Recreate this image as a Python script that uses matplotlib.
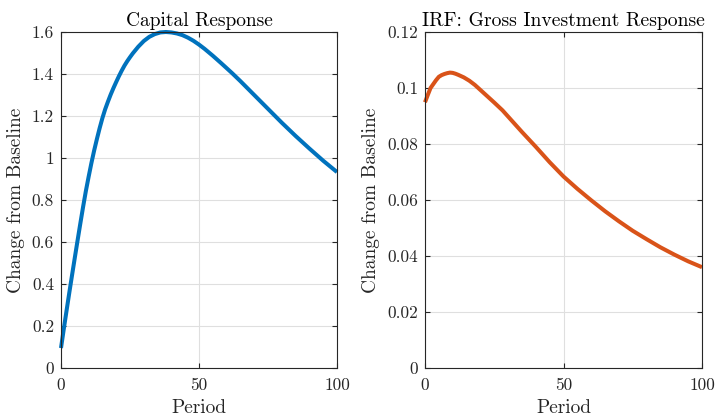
import matplotlib
matplotlib.use("Agg")
import matplotlib.pyplot as plt
from matplotlib.ticker import FuncFormatter

plt.rcParams["font.family"] = ["cmr10", "DejaVu Serif"]
plt.rcParams["mathtext.fontset"] = "cm"
plt.rcParams["axes.formatter.use_mathtext"] = True

# Capital impulse response
capital_period = [0, 1, 2, 3, 4, 5, 6, 7, 8, 9, 10, 11, 12, 13, 14, 15, 16,
                  17, 18, 19, 20, 21, 22, 23, 24, 25, 26, 28, 30, 32, 34, 36,
                  38, 40, 42, 44, 46, 48, 50, 52, 55, 58, 60, 62, 65, 70, 75,
                  80, 85, 90, 95, 100]
capital_value = [0.095, 0.185, 0.272, 0.358, 0.442, 0.525, 0.607, 0.688,
                 0.767, 0.842, 0.910, 0.975, 1.035, 1.090, 1.142, 1.190,
                 1.232, 1.268, 1.302, 1.333, 1.362, 1.390, 1.416, 1.440,
                 1.461, 1.480, 1.498, 1.530, 1.557, 1.577, 1.590, 1.598,
                 1.600, 1.598, 1.593, 1.585, 1.573, 1.558, 1.540, 1.520,
                 1.487, 1.452, 1.428, 1.404, 1.366, 1.300, 1.234, 1.168,
                 1.105, 1.045, 0.987, 0.933]

# Gross investment impulse response
invest_period = [0, 1, 2, 3, 4, 5, 6, 7, 8, 9, 10, 11, 12, 14, 16, 18, 20, 22,
                 25, 28, 30, 35, 40, 45, 50, 55, 60, 65, 70, 75, 80, 85, 90,
                 95, 100]
invest_value = [0.0949, 0.0975, 0.1000, 0.1014, 0.1028, 0.1040, 0.1046,
                0.1050, 0.1053, 0.1055, 0.1054, 0.1051, 0.1047, 0.1038,
                0.1026, 0.1011, 0.0993, 0.0975, 0.0948, 0.0920, 0.0898,
                0.0843, 0.0790, 0.0735, 0.0684, 0.0640, 0.0599, 0.0560,
                0.0524, 0.0490, 0.0460, 0.0431, 0.0405, 0.0381, 0.0360]

x_ticks = [0, 50, 100]
capital_ticks = [0, 0.2, 0.4, 0.6, 0.8, 1.0, 1.2, 1.4, 1.6]
invest_ticks = [0, 0.02, 0.04, 0.06, 0.08, 0.1, 0.12]

BLUE = "#0072BD"
ORANGE = "#D95319"
AXC = "#262626"

fig = plt.figure(figsize=(7.17, 4.16), dpi=100)
ax1 = fig.add_axes([61 / 717, 1 - 368 / 416, 276 / 717, 336 / 416])
ax2 = fig.add_axes([425 / 717, 1 - 368 / 416, 277 / 717, 336 / 416])

fmt = FuncFormatter(lambda v, p: "%g" % round(v, 6))


def style(ax, yticks, ylim):
    ax.set_xlim(0, 100)
    ax.set_ylim(*ylim)
    ax.set_xticks(x_ticks)
    ax.set_yticks(yticks)
    ax.xaxis.set_major_formatter(fmt)
    ax.yaxis.set_major_formatter(fmt)
    ax.grid(True, color="#dfdfdf", linewidth=0.8)
    ax.set_axisbelow(True)
    for s in ax.spines.values():
        s.set_color(AXC)
        s.set_linewidth(0.8)
    ax.tick_params(direction="in", length=3.5, width=0.8, color=AXC,
                   labelcolor=AXC, labelsize=12.5, top=True, right=True)
    ax.tick_params(axis="x", pad=7)
    ax.tick_params(axis="y", pad=5)
    ax.set_xlabel("Period", fontsize=14, color=AXC, labelpad=4)
    ax.set_ylabel("Change from Baseline", fontsize=14, color=AXC, labelpad=5)


ax1.plot(capital_period, capital_value, color=BLUE, linewidth=2.9,
         solid_capstyle="butt", solid_joinstyle="round", clip_on=False)
style(ax1, capital_ticks, (0, 1.6))
ax1.set_title("Capital Response", fontsize=14, color="black", pad=4)

ax2.plot(invest_period, invest_value, color=ORANGE, linewidth=2.9,
         solid_capstyle="butt", solid_joinstyle="round", clip_on=False)
style(ax2, invest_ticks, (0, 0.12))
ax2.set_title("IRF: Gross Investment Response", fontsize=14.2, color="black",
              pad=4)

fig.savefig("out.png", dpi=100)
